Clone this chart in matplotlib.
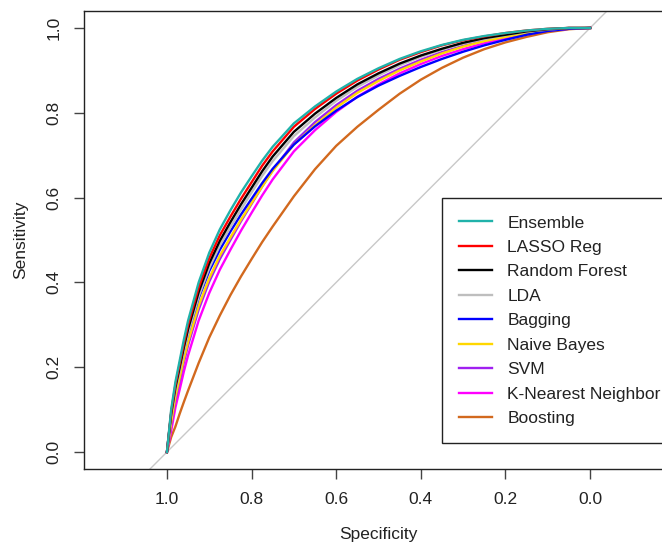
import matplotlib
matplotlib.use("Agg")
import matplotlib.pyplot as plt

plt.rcParams['font.family'] = ['Liberation Sans', 'DejaVu Sans']

specificity = [1.0, 0.99, 0.98, 0.97, 0.96, 0.95, 0.925, 0.9, 0.875, 0.85,
               0.825, 0.8, 0.775, 0.75, 0.7, 0.65, 0.6, 0.55, 0.5, 0.45,
               0.4, 0.35, 0.3, 0.25, 0.2, 0.15, 0.1, 0.05, 0.0]

ensemble = [0, .10, .165, .215, .265, .31, .40, .47, .525, .57,
            .612, .65, .687, .72, .775, .815, .85, .88, .905, .927,
            .945, .96, .972, .981, .988, .994, .998, 1.0, 1.0]
lasso = [0, .095, .158, .207, .256, .30, .388, .457, .511, .555,
         .597, .636, .675, .709, .767, .809, .845, .876, .902, .925,
         .943, .959, .971, .98, .988, .994, .998, 1.0, 1.0]
random_forest = [0, .09, .152, .199, .247, .29, .377, .445, .498, .542,
                 .584, .623, .662, .697, .755, .798, .835, .867, .893, .916,
                 .935, .951, .965, .976, .984, .992, .997, 1.0, 1.0]
lda = [0, .085, .145, .19, .237, .28, .367, .434, .487, .53,
       .572, .612, .651, .686, .745, .789, .828, .861, .888, .912,
       .932, .949, .963, .974, .983, .991, .996, 1.0, 1.0]
bagging = [0, .09, .15, .195, .24, .28, .363, .427, .477, .52,
           .56, .597, .634, .668, .725, .768, .805, .837, .864, .887,
           .908, .927, .944, .959, .972, .984, .993, .998, 1.0]
naive_bayes = [0, .07, .13, .175, .22, .26, .345, .41, .463, .506,
               .548, .587, .626, .663, .725, .771, .812, .847, .875, .90,
               .921, .94, .956, .969, .979, .988, .995, .999, 1.0]
svm = [0, .065, .123, .167, .212, .252, .336, .402, .455, .50,
       .544, .585, .626, .664, .73, .778, .818, .852, .88, .904,
       .925, .943, .958, .97, .98, .989, .995, .999, 1.0]
knn = [0, .05, .105, .147, .19, .228, .31, .375, .43, .477,
       .522, .564, .605, .643, .709, .759, .802, .838, .867, .893,
       .915, .934, .95, .964, .976, .986, .994, .998, 1.0]
boosting = [0, .035, .06, .09, .118, .145, .21, .27, .322, .37,
            .414, .455, .495, .532, .603, .667, .722, .767, .807, .845,
            .878, .906, .93, .95, .966, .979, .99, .997, 1.0]

model_names = ["Ensemble", "LASSO Reg", "Random Forest", "LDA", "Bagging",
               "Naive Bayes", "SVM", "K-Nearest Neighbor", "Boosting"]
model_values = [ensemble, lasso, random_forest, lda, bagging,
                naive_bayes, svm, knn, boosting]
model_colors = ["#20B2AA", "#FF0000", "#000000", "#BEBEBE", "#0000FF",
                "#FFD700", "#A020F0", "#FF00FF", "#D2691E"]

x_ticks = [1.0, 0.8, 0.6, 0.4, 0.2, 0.0]
y_ticks = [0.0, 0.2, 0.4, 0.6, 0.8, 1.0]

W, H = 662, 544
fig = plt.figure(figsize=(W / 100, H / 100), dpi=100)
ax = fig.add_axes([84 / W, (H - 469) / H, (673 - 84) / W, (469 - 11) / H])

ax.set_xlim(1.196, -0.196)
ax.set_ylim(-0.04, 1.04)

# diagonal reference line
ax.plot([1.3, -0.3], [-0.3, 1.3], color="#C8C8C8", lw=1.0, zorder=1)

lines = {}
for name, vals, col in reversed(list(zip(model_names, model_values, model_colors))):
    ln, = ax.plot(specificity, vals, color=col, lw=1.7, label=name,
                  solid_joinstyle="round")
    lines[name] = ln

for s in ax.spines.values():
    s.set_linewidth(1.0)
    s.set_color("#222222")

ax.set_xticks(x_ticks)
ax.set_xticklabels([f"{t:.1f}" for t in x_ticks])
ax.set_yticks(y_ticks)
ax.set_yticklabels([f"{t:.1f}" for t in y_ticks], rotation=90, va="center")
ax.tick_params(axis="both", direction="out", length=10 * 72 / 100, width=1.0,
               color="#444444", labelsize=12.5, labelcolor="#222222")
ax.tick_params(axis="x", pad=9)
ax.tick_params(axis="y", pad=9)

fig.text(378.5 / W, 1 - 534 / H, "Specificity", ha="center", va="center",
         fontsize=12.5, color="#222222")
fig.text(21 / W, 1 - 240 / H, "Sensitivity", ha="center", va="center",
         rotation=90, fontsize=12.5, color="#222222")

leg = ax.legend([lines[n] for n in model_names], model_names,
                loc="upper left", bbox_to_anchor=(442 / W, 1 - 198 / H),
                bbox_transform=fig.transFigure, borderaxespad=0,
                fontsize=12.5, frameon=True, fancybox=False, framealpha=1,
                edgecolor="#222222", handlelength=1.9, handletextpad=0.86,
                labelspacing=0.535, borderpad=1.0)
leg.get_frame().set_linewidth(1.0)
for t in leg.get_texts():
    t.set_color("#222222")

fig.savefig("out.png", dpi=100)
